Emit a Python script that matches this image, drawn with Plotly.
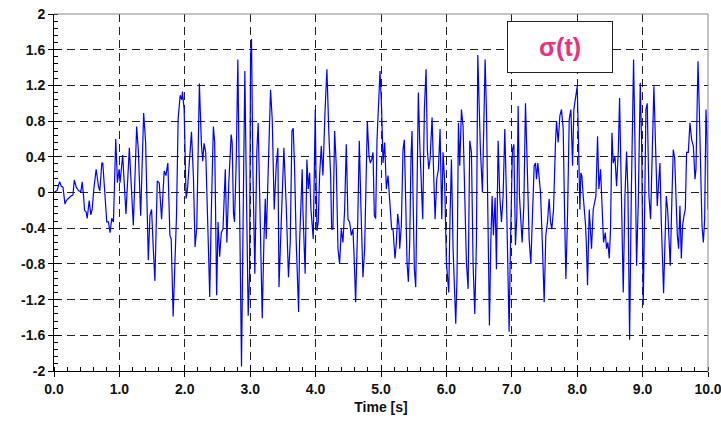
import plotly.graph_objects as go

# time [s]
t = [0.000,0.046,0.086,0.112,0.137,0.168,0.188,0.223,0.259,0.289,0.310,0.340,0.376,0.411,0.431,0.452,0.467,0.492,0.508,0.538,
     0.563,0.584,0.609,0.645,0.680,0.701,0.731,0.746,0.772,0.807,0.832,0.858,0.883,0.909,0.944,0.970,0.995,1.010,1.050,1.100,
     1.152,1.183,1.213,1.264,1.289,1.325,1.371,1.401,1.442,1.467,1.492,1.518,1.543,1.579,1.609,1.645,1.685,1.711,1.741,1.772,
     1.792,1.822,1.848,1.873,1.898,1.929,1.954,1.964,1.990,2.020,2.041,2.066,2.102,2.132,2.157,2.183,2.223,2.254,2.274,2.294,
     2.320,2.360,2.381,2.406,2.437,2.457,2.472,2.487,2.508,2.533,2.558,2.584,2.619,
     2.643,2.673,2.709,2.724,2.745,2.760,2.786,2.811,2.837,2.867,2.898,2.918,2.939,2.969,2.990,3.005,3.020,3.041,3.071,3.102,
     3.122,3.143,3.184,3.209,3.230,3.245,3.270,3.311,3.337,3.367,3.398,3.423,3.440,3.469,3.515,3.551,3.585,3.612,3.638,3.658,
     3.679,3.704,3.740,3.755,3.795,3.806,3.840,3.867,3.888,3.908,3.929,3.964,3.995,4.005,4.020,4.041,4.061,4.087,4.112,4.143,
     4.173,4.204,4.230,4.245,4.265,4.291,4.316,4.342,4.367,4.393,4.418,4.444,4.469,4.495,4.520,4.546,4.571,4.592,4.612,4.643,
     4.668,4.694,4.724,4.750,4.776,4.791,4.816,4.837,4.857,4.878,4.898,4.918,4.939,4.959,4.985,5.010,5.031,5.056,5.082,5.107,
     5.133,5.163,5.184,5.214,5.235,5.255,5.276,
     5.286,5.311,5.337,5.357,5.378,5.398,5.418,5.439,5.459,5.474,5.490,5.510,5.531,5.551,5.571,5.592,5.617,5.638,5.663,5.689,
     5.709,5.730,5.750,5.781,5.806,5.827,5.852,5.878,5.903,5.929,5.949,5.974,6.000,6.020,6.036,6.056,6.077,6.102,6.117,6.143,
     6.163,6.184,6.204,6.230,6.255,6.281,6.306,6.332,6.357,6.383,6.408,6.434,6.459,6.480,6.500,6.520,6.551,6.571,6.592,6.612,
     6.638,6.658,6.679,6.699,6.719,6.745,6.765,6.791,6.816,6.842,6.867,6.893,6.918,6.944,6.959,6.980,7.010,7.031,7.056,7.077,
     7.097,7.117,7.138,7.158,7.184,7.209,7.235,7.265,7.291,7.316,7.342,7.362,7.378,7.398,7.418,7.439,7.469,7.495,7.520,7.546,
     7.571,7.592,7.612,7.638,7.668,7.684,7.709,7.735,7.760,7.786,7.806,7.827,7.852,7.878,
     7.903,7.929,7.949,7.974,8.000,8.020,8.041,8.056,8.071,8.092,8.107,8.128,8.143,8.158,8.184,8.204,8.219,8.245,8.265,8.286,
     8.311,8.332,8.357,8.378,8.403,8.429,8.449,8.469,8.490,8.510,8.531,8.551,8.577,8.602,8.628,8.648,8.668,8.684,8.704,8.730,
     8.755,8.776,8.801,8.827,8.847,8.862,8.883,8.908,8.934,8.949,8.964,8.985,9.010,9.031,9.051,9.071,9.097,9.122,9.153,9.173,
     9.194,9.224,9.245,9.265,9.286,9.306,9.321,9.342,9.362,9.383,9.398,9.423,9.449,9.469,9.490,9.510,9.531,9.551,9.571,9.592,
     9.612,9.633,9.653,9.673,9.699,9.724,9.750,9.776,9.801,9.816,9.832,9.847,9.867,9.888,9.908,9.929,9.949,9.969,9.985,10.000]

# sigma(t)
sigma = [0.00,0.02,0.12,0.07,0.06,-0.13,-0.09,-0.06,-0.04,-0.03,0.14,0.06,0.02,0.01,0.12,-0.04,-0.20,-0.22,-0.29,-0.09,
         -0.25,-0.19,0.04,0.26,0.07,0.02,0.33,0.33,0.04,-0.33,-0.33,-0.45,-0.29,-0.33,0.60,0.11,0.26,0.11,0.42,-0.24,
         0.50,-0.04,-0.37,0.74,0.48,-0.26,0.89,0.56,-0.76,-0.26,-0.19,-0.63,-0.99,0.13,0.11,-0.30,0.24,0.19,0.33,-0.48,
         -0.52,-1.39,-0.86,-0.26,0.82,1.09,1.04,1.13,0.93,-0.07,0.04,0.33,0.68,0.17,-0.61,-0.39,1.22,0.54,0.35,0.55,
         0.45,-0.59,-1.17,-0.20,0.74,0.56,-0.37,-1.15,-0.33,-0.72,-0.45,-0.41,0.26,
         -0.56,0.11,0.65,0.56,-0.24,-0.33,0.33,1.49,-0.19,-1.95,0.11,1.36,0.19,-1.38,-0.93,1.51,1.72,0.26,-0.91,0.48,
         0.78,-0.11,-1.41,-0.56,-0.07,-0.52,0.11,1.15,0.82,-0.19,0.30,0.50,-1.06,-0.48,0.50,-0.15,-0.95,-0.56,0.69,0.72,
         0.26,-0.56,-1.34,-0.56,0.26,-0.19,-0.91,0.37,0.04,0.22,-0.19,-0.52,0.93,0.26,-0.43,-0.33,0.19,0.52,0.19,0.89,
         1.38,0.63,0.19,-0.41,-0.41,0.69,0.30,-0.63,-0.80,-0.41,-0.56,-0.19,0.54,-0.30,-0.33,-0.48,-0.41,-0.78,-1.23,-0.37,
         0.58,-0.19,-0.95,-0.63,0.56,0.80,0.41,0.33,0.37,0.45,-0.26,-0.29,0.59,0.86,1.36,0.93,0.33,0.56,0.04,0.19,
         -0.07,-0.41,-0.41,-0.74,-0.56,-0.24,-0.37,
         -0.63,-0.37,0.48,0.59,-0.04,-0.78,-1.00,-0.56,0.41,0.69,-0.04,-0.86,-1.06,-0.19,1.12,0.56,-0.04,-0.30,0.93,1.38,
         0.48,0.26,0.37,0.84,0.19,-0.30,0.15,0.26,0.71,-0.30,0.45,0.11,-0.78,-0.93,-1.12,-0.26,0.37,-0.63,-0.93,-1.47,
         -0.93,0.78,0.30,0.93,0.74,0.04,-0.78,-1.08,0.58,0.45,-0.80,-1.36,-0.56,1.54,1.04,0.48,0.00,0.86,1.49,0.93,
         -0.19,-1.49,-0.56,-0.04,-0.48,-0.06,-0.86,0.58,-0.04,-0.33,-0.04,0.71,-0.04,-1.23,-1.56,-0.56,0.48,0.54,-0.59,-0.26,
         0.97,-0.04,-0.33,-0.56,-0.15,1.00,0.33,-0.52,-0.80,-0.19,0.30,0.33,0.15,0.33,0.11,0.00,-0.61,-1.23,-0.48,-0.33,
         -0.07,-0.33,-0.41,-0.19,0.56,0.80,0.56,0.86,0.93,0.71,-0.19,-0.97,-0.26,0.82,
         0.93,0.30,0.93,1.04,1.19,0.56,-0.19,0.22,0.19,-0.04,-0.15,-0.37,-0.63,-1.04,-0.19,-0.56,-0.63,-0.19,-0.11,-0.04,
         0.63,0.04,0.26,-0.04,-0.56,-0.45,-0.63,-0.56,-0.74,-0.41,0.67,0.33,0.41,0.07,0.45,1.06,0.37,-0.56,-1.12,-0.04,
         0.46,0.00,-1.65,-0.04,0.93,1.49,0.56,-0.82,-0.11,0.93,1.23,0.56,-1.26,-0.19,0.93,1.00,-0.04,-0.30,0.67,1.19,
         0.63,-0.15,0.11,0.33,-0.33,-0.93,-1.13,-0.56,-0.04,-0.19,-0.41,-0.82,-0.04,0.48,0.39,-0.07,-0.48,-0.63,-0.15,-0.74,
         -0.37,-0.26,-0.19,0.45,0.45,0.78,0.59,0.52,0.15,0.26,0.93,1.47,0.93,0.19,-0.37,-0.56,-0.30,0.93,0.63,-0.19]

x_ticks = [0, 1, 2, 3, 4, 5, 6, 7, 8, 9, 10]
x_labels = ["0.0", "1.0", "2.0", "3.0", "4.0", "5.0", "6.0", "7.0", "8.0", "9.0", "10.0"]
y_ticks = [-2, -1.6, -1.2, -0.8, -0.4, 0, 0.4, 0.8, 1.2, 1.6, 2]
y_labels = ["-2", "-1.6", "-1.2", "-0.8", "-0.4", "0", "0.4", "0.8", "1.2", "1.6", "2"]

FONT = "Liberation Sans"

fig = go.Figure()
fig.add_trace(go.Scatter(x=t, y=sigma, mode="lines",
                         line=dict(color="#0000FF", width=1.2), showlegend=False,
                         hoverinfo="skip"))
# invisible trace for the overlay axes (inside part of the major ticks)
fig.add_trace(go.Scatter(x=[0], y=[0], xaxis="x2", yaxis="y2", mode="markers",
                         marker=dict(opacity=0), showlegend=False, hoverinfo="skip"))

grid = dict(showgrid=True, gridcolor="#222", griddash="8px,5px", gridwidth=1)

fig.update_layout(
    width=721, height=425,
    margin=dict(l=54, r=13, t=14, b=54),
    plot_bgcolor="white", paper_bgcolor="white",
    font=dict(family=FONT, size=14, color="black"),
    xaxis=dict(range=[0, 10], tickvals=x_ticks, ticktext=x_labels, automargin=False,
               ticklabeloverflow="allow",
               tickfont=dict(family=FONT, size=14, color="#111", weight="bold"),
               ticks="outside", ticklen=5, tickcolor="black", tickwidth=1,
               showline=True, linecolor="black", linewidth=1, zeroline=False,
               minor=dict(ticks="inside", dtick=0.2, ticklen=4, tickcolor="black", showgrid=False),
               title=dict(text="<b>Time [s]</b>", font=dict(family=FONT, size=14, color="#111"), standoff=6),
               **grid),
    yaxis=dict(range=[-2, 2], tickvals=y_ticks, ticktext=y_labels, automargin=False,
               ticklabeloverflow="allow",
               tickfont=dict(family=FONT, size=14, color="#111", weight="bold"),
               ticks="outside", ticklen=5, tickcolor="black", tickwidth=1,
               showline=True, linecolor="black", linewidth=1, zeroline=False,
               minor=dict(ticks="inside", dtick=0.08, ticklen=4, tickcolor="black", showgrid=False),
               **grid),
    xaxis2=dict(range=[0, 10], overlaying="x", side="bottom", tickvals=x_ticks, automargin=False,
                ticks="inside", ticklen=6, tickcolor="black", showticklabels=False,
                showgrid=False, zeroline=False, showline=False),
    yaxis2=dict(range=[-2, 2], overlaying="y", side="left", tickvals=y_ticks, automargin=False,
                ticks="inside", ticklen=6, tickcolor="black", showticklabels=False,
                showgrid=False, zeroline=False, showline=False),
    shapes=[
        dict(type="line", xref="paper", yref="paper", x0=0, x1=1, y0=1, y1=1,
             line=dict(color="#888", width=1)),
        dict(type="line", xref="paper", yref="paper", x0=1, x1=1, y0=0, y1=1,
             line=dict(color="#888", width=1)),
    ],
    annotations=[dict(
        x=7.73, y=1.63, xref="x", yref="y", xanchor="center", yanchor="middle",
        text="<b>σ(t)</b>", showarrow=False,
        font=dict(family=FONT, size=25, color="#E8327C"),
        bgcolor="white", bordercolor="#222", borderwidth=1, borderpad=0,
        width=104, height=50,
    )],
)

fig.write_html("out.html")
